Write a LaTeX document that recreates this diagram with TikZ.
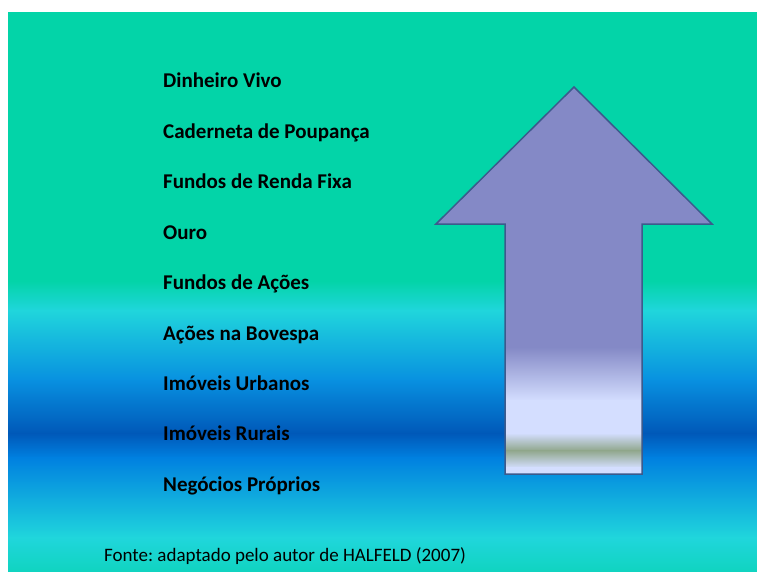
\documentclass[tikz,border=0pt]{standalone}
\usepackage{fontspec}
\setmainfont{Carlito}
\frenchspacing
\usetikzlibrary{positioning}
\definecolor{verde}{HTML}{03D4A8}
\definecolor{verdeclaro}{HTML}{10D4C0}
\definecolor{ciano}{HTML}{20D6DC}
\definecolor{azulclaro}{HTML}{0890E0}
\definecolor{azul}{HTML}{0080E0}
\definecolor{azulescuro}{HTML}{0058B8}
\definecolor{lilas}{HTML}{8489C6}
\definecolor{claro}{HTML}{D4DEFF}
\definecolor{musgo}{HTML}{8FA68A}
\definecolor{borda}{HTML}{3C5A8C}
\tikzset{item/.style={anchor=base west, inner sep=0pt,
    font=\fontsize{21}{24}\selectfont\bfseries}}
\tikzset{fonte/.style={anchor=base west, inner sep=0pt,
    font=\fontsize{19}{22}\selectfont}}

\begin{document}
\begin{tikzpicture}[x=1pt,y=-1pt]
  \useasboundingbox (0,0) rectangle (757,572);

  % fundo
  \fill[verde] (8,12) rectangle (757,282);
  \foreach \ya/\yb/\ca/\cb in {281/311/verde/ciano, 310/381/ciano/azulclaro,
      380/434/azulclaro/azulescuro, 433/458/azulescuro/azul,
      457/538/azul/ciano, 537/572/ciano/verdeclaro}
    \shade[top color=\ca, bottom color=\cb] (8,\ya) rectangle (757,\yb);

  % seta
  \coordinate (ponta) at (574,87);
  \coordinate (ce) at (436,224);
  \coordinate (cd) at (712,224);
  \coordinate (he) at (505,224);
  \coordinate (hd) at (642,224);
  \coordinate (be) at (505,474);
  \coordinate (bd) at (642,474);

  \begin{scope}
    \clip (ponta)--(cd)--(hd)--(bd)--(be)--(he)--(ce)--cycle;
    \fill[lilas] (430,80) rectangle (720,348);
    \foreach \ya/\yb/\ca/\cb in {347/401/lilas/claro, 400/434/claro/claro,
        433/451/claro/musgo, 450/468/musgo/claro, 467/480/claro/claro}
      \shade[top color=\ca, bottom color=\cb] (430,\ya) rectangle (720,\yb);
  \end{scope}
  \draw[borda, line width=1.5pt, line join=miter]
    (ponta)--(cd)--(hd)--(bd)--(be)--(he)--(ce)--cycle;

  % itens
  \foreach \t [count=\n] in {Dinheiro Vivo, Caderneta de Poupança,
      Fundos de Renda Fixa, Ouro, Fundos de Ações, Ações na Bovespa,
      Imóveis Urbanos, Imóveis Rurais, Negócios Próprios}
    \node[item] (item\n) at (163,{88+50.4*(\n-1)}) {\t};

  \node[fonte] (fonte) at (104,561.5) {Fonte: adaptado pelo autor de HALFELD (2007)};
\end{tikzpicture}
\end{document}
